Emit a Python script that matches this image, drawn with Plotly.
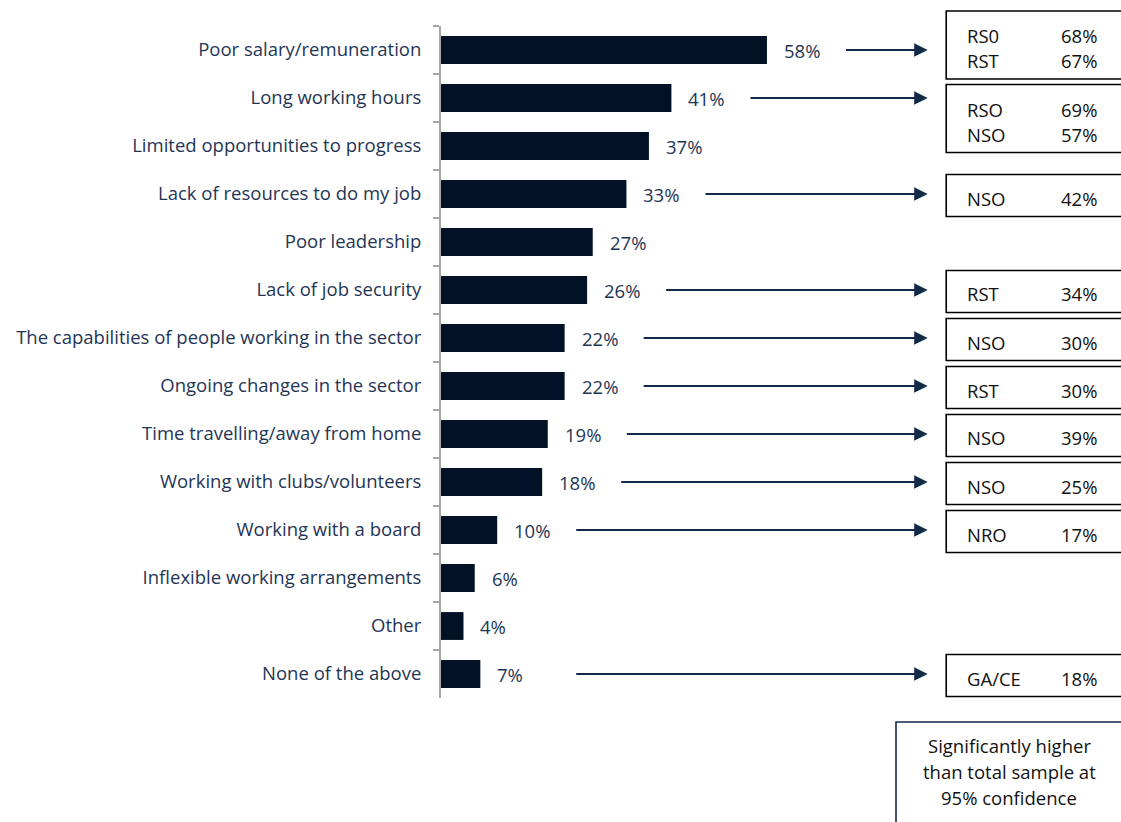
import plotly.graph_objects as go

# Reasons for leaving / challenges, share of total sample (%)
categories = [
    "Poor salary/remuneration",
    "Long working hours",
    "Limited opportunities to progress",
    "Lack of resources to do my job",
    "Poor leadership",
    "Lack of job security",
    "The capabilities of people working in the sector",
    "Ongoing changes in the sector",
    "Time travelling/away from home",
    "Working with clubs/volunteers",
    "Working with a board",
    "Inflexible working arrangements",
    "Other",
    "None of the above",
]
shares = [58, 41, 37, 33, 27, 26, 22, 22, 19, 18, 10, 6, 4, 7]

# Sub-groups significantly higher than the total sample
callout_categories = [
    "Poor salary/remuneration",
    "Long working hours",
    "Lack of resources to do my job",
    "Lack of job security",
    "The capabilities of people working in the sector",
    "Ongoing changes in the sector",
    "Time travelling/away from home",
    "Working with clubs/volunteers",
    "Working with a board",
    "None of the above",
]
callout_groups = [["RS0", "RST"], ["RSO", "NSO"], ["NSO"], ["RST"], ["NSO"],
                  ["RST"], ["NSO"], ["NSO"], ["NRO"], ["GA/CE"]]
callout_values = [[68, 67], [69, 57], [42], [34], [30], [30], [39], [25], [17], [18]]

note_lines = ["Significantly higher", "than total sample at", "95% confidence"]

# ---- layout constants ----
W, H = 1121, 822
N = len(categories)
ROW = 48
PLOT_L, PLOT_T = 441, 26
PLOT_W = W - PLOT_L
PLOT_H = ROW * N
XMAX = 121

BAR = "#011226"
NAVY = "#14294A"
LABEL = "#1F3555"
FONT = "Open Sans"
FS = 18.5

BOX_X = 89.9        # callout box left edge, in axis units
GROUP_X = 93.2      # group name
VALUE_X = 110.0     # group value
ARROW_TIP = 86.6
ARROW_GAP = 13.8
DOUBLE_SHIFT = {0: -5, 1: 20.5}   # vertical offset (px) of stacked two-line boxes


def px_x(v):
    return v / XMAX


def px_y(row, dpx=0.0):
    return 1 - (row + 0.5) / N - dpx / PLOT_H


fig = go.Figure(go.Bar(
    x=shares, y=categories, orientation="h",
    marker=dict(color=BAR, line=dict(width=0)),
    hoverinfo="x+y",
))

annotations = []
shapes = []

# value labels next to the bars
for cat, v in zip(categories, shares):
    annotations.append(dict(
        x=v, y=cat, xref="x", yref="y", text=f"{v}%", showarrow=False,
        xanchor="left", xshift=15, font=dict(family=FONT, size=FS, color=LABEL),
    ))

# arrows and callout boxes
for cat, groups, vals in zip(callout_categories, callout_groups, callout_values):
    r = categories.index(cat)
    v = shares[r]
    start = max(v, 10) + ARROW_GAP
    annotations.append(dict(
        x=ARROW_TIP, y=cat, xref="x", yref="y",
        ax=start, ay=0, axref="x", ayref="pixel",
        showarrow=True, arrowhead=2, arrowsize=1.35, arrowwidth=2,
        arrowcolor=NAVY, text="",
    ))
    if len(groups) == 1:
        centre, half = 1.5, 21
        line_offsets = [2.5]
    else:
        centre, half = DOUBLE_SHIFT.get(r, 0), 34
        line_offsets = [-9.5, 15.5]
    shapes.append(dict(
        type="rect", xref="paper", yref="paper",
        x0=px_x(BOX_X), x1=1.05,
        y0=px_y(r, centre + half), y1=px_y(r, centre - half),
        line=dict(color="#000000", width=1.6), fillcolor="rgba(0,0,0,0)",
    ))
    for g, val, off in zip(groups, vals, line_offsets):
        yy = px_y(r, centre + off)
        annotations.append(dict(
            x=px_x(GROUP_X), y=yy, xref="paper", yref="paper", text=g,
            showarrow=False, xanchor="left", yanchor="middle",
            font=dict(family=FONT, size=FS, color="#111111"),
        ))
        annotations.append(dict(
            x=px_x(VALUE_X), y=yy, xref="paper", yref="paper", text=f"{val}%",
            showarrow=False, xanchor="left", yanchor="middle",
            font=dict(family=FONT, size=FS, color="#111111"),
        ))

# significance note
note_left = (896 - PLOT_L) / PLOT_W
note_top = -24 / PLOT_H
shapes.append(dict(
    type="rect", xref="paper", yref="paper",
    x0=note_left, x1=1.05, y0=-0.3, y1=note_top,
    line=dict(color=NAVY, width=1.6), fillcolor="rgba(0,0,0,0)",
))
for i, line in enumerate(note_lines):
    annotations.append(dict(
        x=(1009 - PLOT_L) / PLOT_W, y=-(47 + 26 * i) / PLOT_H,
        xref="paper", yref="paper", text=line, showarrow=False,
        xanchor="center", yanchor="middle",
        font=dict(family=FONT, size=FS, color="#111111"),
    ))

fig.update_layout(
    width=W, height=H, autosize=False,
    margin=dict(l=PLOT_L, r=0, t=PLOT_T, b=H - PLOT_T - PLOT_H, pad=0),
    paper_bgcolor="white", plot_bgcolor="white",
    bargap=0.42, showlegend=False,
    xaxis=dict(range=[0, XMAX], visible=False, fixedrange=True),
    yaxis=dict(
        type="category", categoryorder="array", categoryarray=categories,
        range=[N - 0.5, -0.5], showgrid=False, zeroline=False,
        showline=True, linecolor="#A6A6A6", linewidth=2,
        ticks="outside", tickson="boundaries", ticklen=6,
        tickcolor="#A6A6A6", tickwidth=2,
        ticklabelstandoff=14,
        tickfont=dict(family=FONT, size=FS, color=LABEL),
        fixedrange=True,
    ),
    annotations=annotations,
    shapes=shapes,
)

fig.write_html("out.html")
